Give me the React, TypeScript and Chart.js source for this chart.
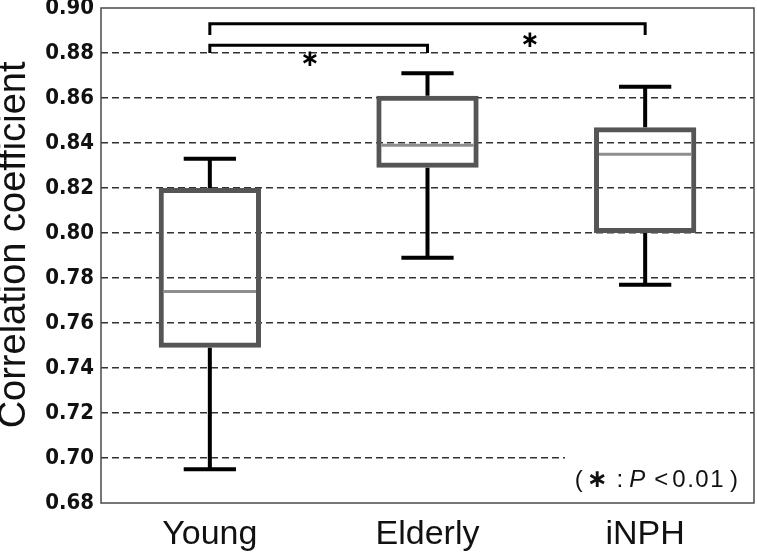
import React, { useEffect, useRef } from 'react';
import { Chart, registerables } from 'chart.js';

Chart.register(...registerables);

// ---- data ----
const categories = ['Young', 'Elderly', 'iNPH'];
const whiskerLow = [0.695, 0.789, 0.777];
const quartile1 = [0.749, 0.829, 0.8];
const medians = [0.774, 0.839, 0.835];
const quartile3 = [0.82, 0.861, 0.847];
const whiskerHigh = [0.833, 0.871, 0.865];

const yMin = 0.68;
const yMax = 0.9;
const yStep = 0.02;
const yTitle = 'Correlation coefficient';

// significance brackets (category index from/to, value of bar, value of feet)
const bracketFrom = [0, 0];
const bracketTo = [2, 1];
const bracketLevel = [0.893, 0.8835];
const bracketFoot = [0.888, 0.88];
// asterisk positions (category-index units, value units)
const starX = [1.47, 0.46];
const starY = [0.8853, 0.8769];
const starText = '\u2217';

// note text segments
const noteSegments = ['(', '\u2217', ':', 'P', '<', '0.01', ')'];
const noteItalic = [false, false, false, true, false, false, false];
const noteGaps = [4, 9, 6, 9, 4, 5, 0];

const extrasPlugin = {
  id: 'boxExtras',
  beforeDatasetsDraw(chart: any) {
    const { ctx, chartArea: a, scales } = chart;
    const y = scales.y;
    // white background behind the note
    ctx.save();
    ctx.fillStyle = '#ffffff';
    const top = y.getPixelForValue(0.7) - 3;
    ctx.fillRect(a.right - 189, top, 189, a.bottom - top);
    ctx.restore();
  },
  afterDatasetsDraw(chart: any) {
    const { ctx, scales } = chart;
    const x = scales.x;
    const y = scales.y;
    const meta = chart.getDatasetMeta(0);
    ctx.save();
    ctx.lineCap = 'butt';
    categories.forEach((_, i) => {
      const cx = x.getPixelForValue(i);
      const bar = meta.data[i];
      const bw = bar.width;
      const capW = x.getPixelForValue(1) - x.getPixelForValue(0);
      const capHalf = capW * 0.12;
      // whiskers
      ctx.strokeStyle = '#000';
      ctx.lineWidth = 4;
      ctx.beginPath();
      ctx.moveTo(cx, y.getPixelForValue(quartile3[i]));
      ctx.lineTo(cx, y.getPixelForValue(whiskerHigh[i]));
      ctx.moveTo(cx, y.getPixelForValue(quartile1[i]));
      ctx.lineTo(cx, y.getPixelForValue(whiskerLow[i]));
      ctx.stroke();
      ctx.beginPath();
      ctx.moveTo(cx - capHalf, y.getPixelForValue(whiskerHigh[i]));
      ctx.lineTo(cx + capHalf, y.getPixelForValue(whiskerHigh[i]));
      ctx.moveTo(cx - capHalf, y.getPixelForValue(whiskerLow[i]));
      ctx.lineTo(cx + capHalf, y.getPixelForValue(whiskerLow[i]));
      ctx.stroke();
      // median
      ctx.strokeStyle = '#8e8e8e';
      ctx.lineWidth = 3;
      ctx.beginPath();
      ctx.moveTo(cx - bw / 2 + 5, y.getPixelForValue(medians[i]));
      ctx.lineTo(cx + bw / 2 - 5, y.getPixelForValue(medians[i]));
      ctx.stroke();
    });

    // brackets
    ctx.strokeStyle = '#000';
    ctx.lineWidth = 3;
    ctx.lineJoin = 'miter';
    bracketFrom.forEach((f, k) => {
      const x1 = x.getPixelForValue(f);
      const x2 = x.getPixelForValue(bracketTo[k]);
      const yl = y.getPixelForValue(bracketLevel[k]);
      const yf = y.getPixelForValue(bracketFoot[k]);
      ctx.beginPath();
      ctx.moveTo(x1, yf);
      ctx.lineTo(x1, yl);
      ctx.lineTo(x2, yl);
      ctx.lineTo(x2, yf);
      ctx.stroke();
    });
    // asterisks
    ctx.fillStyle = '#000';
    ctx.font = 'bold 23px "DejaVu Sans"';
    ctx.textAlign = 'center';
    ctx.textBaseline = 'middle';
    starX.forEach((sx, k) => {
      const px = x.getPixelForValue(0) + sx * (x.getPixelForValue(1) - x.getPixelForValue(0));
      ctx.fillText(starText, px, y.getPixelForValue(starY[k]));
    });
    ctx.restore();
  },
  afterDraw(chart: any) {
    const { ctx, chartArea: a } = chart;
    ctx.save();
    // note
    const fontFor = (i: number) => {
      if (noteSegments[i] === '\u2217') return 'bold 25px "DejaVu Sans"';
      return (noteItalic[i] ? 'italic ' : '') + '24px "Liberation Sans"';
    };
    const spacingFor = (i: number) => (noteSegments[i] === '0.01' ? '1.5px' : '0px');
    const widths: number[] = [];
    noteSegments.forEach((s, i) => {
      ctx.font = fontFor(i);
      (ctx as any).letterSpacing = spacingFor(i);
      widths.push(ctx.measureText(s).width);
    });
    const total = widths.reduce((p, c) => p + c, 0) + noteGaps.reduce((p, c) => p + c, 0);
    let px = a.right - 16 - total;
    const base = a.bottom - 16;
    ctx.fillStyle = '#111';
    ctx.textAlign = 'left';
    ctx.textBaseline = 'alphabetic';
    noteSegments.forEach((s, i) => {
      ctx.font = fontFor(i);
      (ctx as any).letterSpacing = spacingFor(i);
      ctx.fillText(s, px, base);
      px += widths[i] + noteGaps[i];
    });
    (ctx as any).letterSpacing = '0px';
    // frame
    ctx.strokeStyle = '#4a4a4a';
    ctx.lineWidth = 1.5;
    ctx.strokeRect(a.left, a.top, a.right - a.left, a.bottom - a.top);
    ctx.restore();
  },
};

export default function App() {
  const ref = useRef<HTMLCanvasElement | null>(null);
  useEffect(() => {
    if (!ref.current) return;
    const chart = new Chart(ref.current, {
      type: 'bar',
      data: {
        labels: categories,
        datasets: [
          {
            data: categories.map((_, i) => [quartile1[i], quartile3[i]]) as any,
            backgroundColor: 'rgba(0,0,0,0)',
            borderColor: '#555555',
            borderWidth: 5,
            borderSkipped: false,
            barPercentage: 0.47,
            categoryPercentage: 1,
          },
        ],
      },
      options: {
        responsive: false,
        animation: false,
        devicePixelRatio: 1,
        layout: { padding: { left: 0, right: 3, top: 8, bottom: 0 } },
        plugins: { legend: { display: false }, tooltip: { enabled: false } },
        scales: {
          x: {
            grid: { display: false },
            border: { display: false },
            ticks: {
              font: { family: 'Liberation Sans', size: 34 },
              color: '#111',
              padding: 3,
            },
            afterFit(s: any) {
              s.height = 52;
            },
          },
          y: {
            min: yMin,
            max: yMax,
            ticks: {
              stepSize: yStep,
              callback: (v: any) => Number(v).toFixed(2),
              font: { family: 'DejaVu Sans Condensed', weight: 'bold', size: 22, lineHeight: 0.05 },
              color: '#111',
              padding: 7,
            },
            grid: {
              color: (c: any) => {
                const v = c.tick ? c.tick.value : 0;
                return Math.abs(v - yMin) < 1e-6 || Math.abs(v - yMax) < 1e-6 ? 'rgba(0,0,0,0)' : '#333';
              },
              lineWidth: 1.4,
              drawTicks: false,
            },
            border: { display: false, dash: [7, 4] },
            title: {
              display: true,
              text: '  ' + yTitle,
              font: { family: 'Liberation Sans', size: 38, lineHeight: 0.74 },
              color: '#111',
              padding: 0,
            },
            afterFit(s: any) {
              s.width = 101;
            },
          },
        },
      },
      plugins: [extrasPlugin],
    });
    return () => chart.destroy();
  }, []);
  return (
    <div style={{ position: 'absolute', left: 0, top: 0, width: 757, height: 555, background: '#fff' }}>
      <canvas ref={ref} width={757} height={555} />
    </div>
  );
}
